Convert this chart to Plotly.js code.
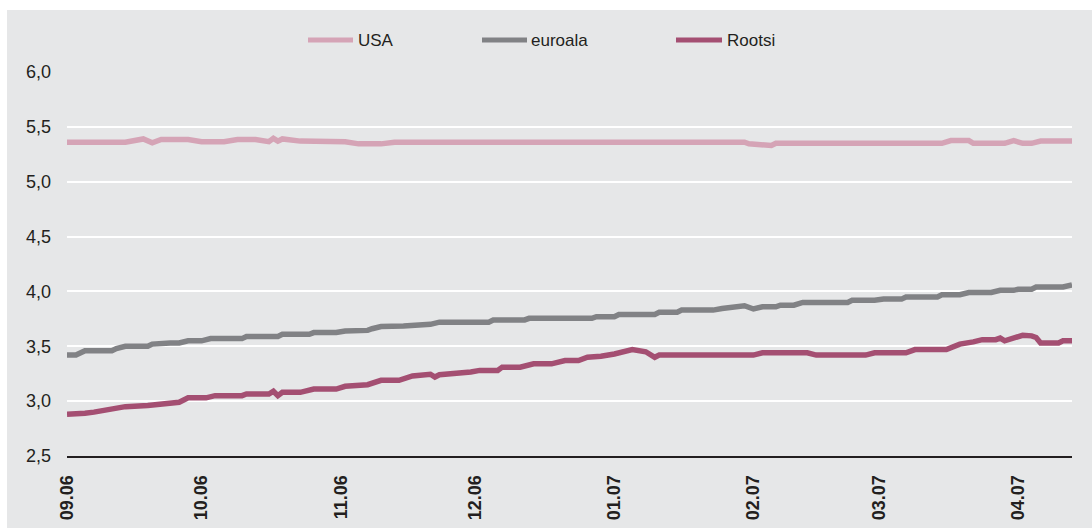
<!DOCTYPE html>
<html>
<head>
<meta charset="utf-8">
<script src="https://cdn.plot.ly/plotly-3.0.1.min.js"></script>
<style>
  html, body { margin: 0; padding: 0; background: #ffffff; }
  #chart { position: absolute; left: 7px; top: 10px; width: 1085px; height: 518px; }
</style>
</head>
<body>
<div id="chart"></div>
<script>
// ---- Data ----
const seriesNames = ['USA', 'euroala', 'Rootsi'];

const usaDates = ['2006-09-01','2006-09-14','2006-09-18','2006-09-20','2006-09-22','2006-09-28','2006-10-01','2006-10-06','2006-10-09','2006-10-13','2006-10-16','2006-10-17','2006-10-18','2006-10-19','2006-10-23','2006-11-02','2006-11-05','2006-11-10','2006-11-13','2007-01-30','2007-01-31','2007-02-05','2007-02-06','2007-03-15','2007-03-17','2007-03-21','2007-03-22','2007-03-29','2007-03-31','2007-04-02','2007-04-04','2007-04-06','2007-04-13'];
const usaValues = [5.36,5.36,5.39,5.355,5.385,5.385,5.365,5.365,5.385,5.385,5.365,5.395,5.37,5.39,5.37,5.365,5.345,5.345,5.36,5.36,5.345,5.33,5.35,5.35,5.375,5.375,5.35,5.35,5.375,5.35,5.35,5.37,5.37];

const euroDates = ['2006-09-01','2006-09-03','2006-09-05','2006-09-11','2006-09-12','2006-09-14','2006-09-19','2006-09-20','2006-09-24','2006-09-26','2006-09-28','2006-10-01','2006-10-03','2006-10-10','2006-10-11','2006-10-18','2006-10-19','2006-10-25','2006-10-26','2006-10-31','2006-11-02','2006-11-07','2006-11-08','2006-11-10','2006-11-15','2006-11-17','2006-11-21','2006-11-23','2006-12-04','2006-12-05','2006-12-12','2006-12-13','2006-12-27','2006-12-28','2007-01-01','2007-01-02','2007-01-10','2007-01-11','2007-01-15','2007-01-16','2007-01-23','2007-01-25','2007-01-28','2007-01-30','2007-02-01','2007-02-03','2007-02-06','2007-02-07','2007-02-10','2007-02-12','2007-02-22','2007-02-23','2007-02-28','2007-03-02','2007-03-06','2007-03-07','2007-03-14','2007-03-15','2007-03-19','2007-03-21','2007-03-26','2007-03-28','2007-03-31','2007-04-01','2007-04-04','2007-04-05','2007-04-11','2007-04-13'];
const euroValues = [3.42,3.42,3.46,3.46,3.48,3.50,3.50,3.52,3.53,3.53,3.55,3.55,3.57,3.57,3.59,3.59,3.61,3.61,3.625,3.625,3.64,3.645,3.66,3.68,3.685,3.69,3.70,3.72,3.72,3.74,3.74,3.755,3.755,3.77,3.77,3.79,3.79,3.81,3.81,3.83,3.83,3.845,3.855,3.87,3.84,3.86,3.86,3.875,3.875,3.90,3.90,3.92,3.92,3.93,3.93,3.95,3.95,3.97,3.97,3.99,3.99,4.01,4.01,4.02,4.02,4.04,4.04,4.06];

const rootsiDates = ['2006-09-01','2006-09-03','2006-09-05','2006-09-07','2006-09-11','2006-09-14','2006-09-19','2006-09-22','2006-09-26','2006-09-28','2006-10-02','2006-10-04','2006-10-10','2006-10-11','2006-10-16','2006-10-17','2006-10-18','2006-10-19','2006-10-23','2006-10-26','2006-10-31','2006-11-02','2006-11-07','2006-11-10','2006-11-14','2006-11-17','2006-11-20','2006-11-21','2006-11-22','2006-11-23','2006-11-30','2006-12-02','2006-12-06','2006-12-07','2006-12-11','2006-12-14','2006-12-18','2006-12-21','2006-12-24','2006-12-26','2006-12-29','2007-01-01','2007-01-05','2007-01-08','2007-01-10','2007-01-11','2007-02-01','2007-02-03','2007-02-13','2007-02-15','2007-02-26','2007-02-28','2007-03-07','2007-03-09','2007-03-16','2007-03-19','2007-03-22','2007-03-24','2007-03-27','2007-03-28','2007-03-29','2007-03-31','2007-04-02','2007-04-04','2007-04-05','2007-04-06','2007-04-10','2007-04-11','2007-04-13'];
const rootsiValues = [2.88,2.88,2.89,2.90,2.93,2.95,2.96,2.97,2.99,3.03,3.03,3.05,3.05,3.065,3.065,3.09,3.05,3.08,3.08,3.11,3.11,3.135,3.15,3.19,3.19,3.23,3.24,3.245,3.22,3.24,3.265,3.28,3.28,3.31,3.31,3.34,3.34,3.37,3.37,3.40,3.41,3.43,3.47,3.45,3.40,3.42,3.42,3.44,3.44,3.42,3.42,3.44,3.44,3.47,3.47,3.52,3.54,3.56,3.56,3.575,3.55,3.58,3.60,3.595,3.58,3.53,3.53,3.55,3.55];

const tickDates = ['2006-09-01','2006-10-01','2006-11-01','2006-12-01','2007-01-01','2007-02-01','2007-03-01','2007-04-01'];
const tickLabels = ['09.06','10.06','11.06','12.06','01.07','02.07','03.07','04.07'];
const yTicks = [2.5, 3.0, 3.5, 4.0, 4.5, 5.0, 5.5, 6.0];

// ---- Styles ----
const colors = ['#d5a4b6', '#818285', '#a44f72'];
const textColor = '#231f20';
const fontFamily = '"Liberation Sans", Arial, Helvetica, sans-serif';

const xs = [usaDates, euroDates, rootsiDates];
const ys = [usaValues, euroValues, rootsiValues];

const traces = seriesNames.map((name, i) => ({
  type: 'scatter',
  mode: 'lines',
  name: name,
  x: xs[i],
  y: ys[i],
  line: { color: colors[i], width: 5.5, shape: 'linear' },
  showlegend: false,
  hoverinfo: 'x+y+name'
}));

// Plot-area geometry (pixels inside the chart div)
const W = 1085, H = 518;
const M = { l: 60, r: 20, t: 62, b: 72 };
const plotW = W - M.l - M.r;
const plotH = H - M.t - M.b;
const px2x = px => (px - M.l) / plotW;
const px2y = py => (H - M.b - py) / plotH;

// Hand-placed legend (sample line 45px wide, text to the right)
const legendItems = [
  { x0: 301, x1: 346, tx: 349 },
  { x0: 475, x1: 520, tx: 522 },
  { x0: 669, x1: 715, tx: 718 }
];
const legendY = 30;
const shapes = legendItems.map((it, i) => ({
  type: 'line', xref: 'paper', yref: 'paper',
  x0: px2x(it.x0), x1: px2x(it.x1), y0: px2y(legendY), y1: px2y(legendY),
  line: { color: colors[i], width: 5 }
}));
const annotations = legendItems.map((it, i) => ({
  xref: 'paper', yref: 'paper',
  x: px2x(it.tx), y: px2y(legendY),
  xanchor: 'left', yanchor: 'middle',
  text: seriesNames[i], showarrow: false,
  font: { family: fontFamily, size: 17, color: textColor }
}));

const layout = {
  width: W, height: H,
  margin: M,
  paper_bgcolor: '#e6e7e8',
  plot_bgcolor: '#e6e7e8',
  separators: ', ',
  font: { family: fontFamily, color: textColor, size: 18 },
  showlegend: false,
  xaxis: {
    type: 'date',
    range: ['2006-09-01', '2007-04-13'],
    tickmode: 'array',
    tickvals: tickDates,
    ticktext: tickLabels,
    tickangle: -90,
    tickfont: { family: fontFamily, size: 18, color: textColor, weight: 'bold' },
    showgrid: false,
    zeroline: false,
    showline: true,
    linecolor: textColor,
    linewidth: 2,
    ticks: '',
    ticklabelstandoff: 10,
    fixedrange: true
  },
  yaxis: {
    range: [2.5, 6.0],
    tickmode: 'array',
    tickvals: yTicks,
    tickformat: '.1f',
    tickfont: { family: fontFamily, size: 18, color: textColor },
    showgrid: true,
    gridcolor: '#ffffff',
    gridwidth: 2,
    zeroline: false,
    showline: false,
    ticks: '',
    ticklabelstandoff: 15,
    fixedrange: true
  },
  shapes: shapes,
  annotations: annotations
};

Plotly.newPlot('chart', traces, layout, { displayModeBar: false, staticPlot: false });
</script>
</body>
</html>
